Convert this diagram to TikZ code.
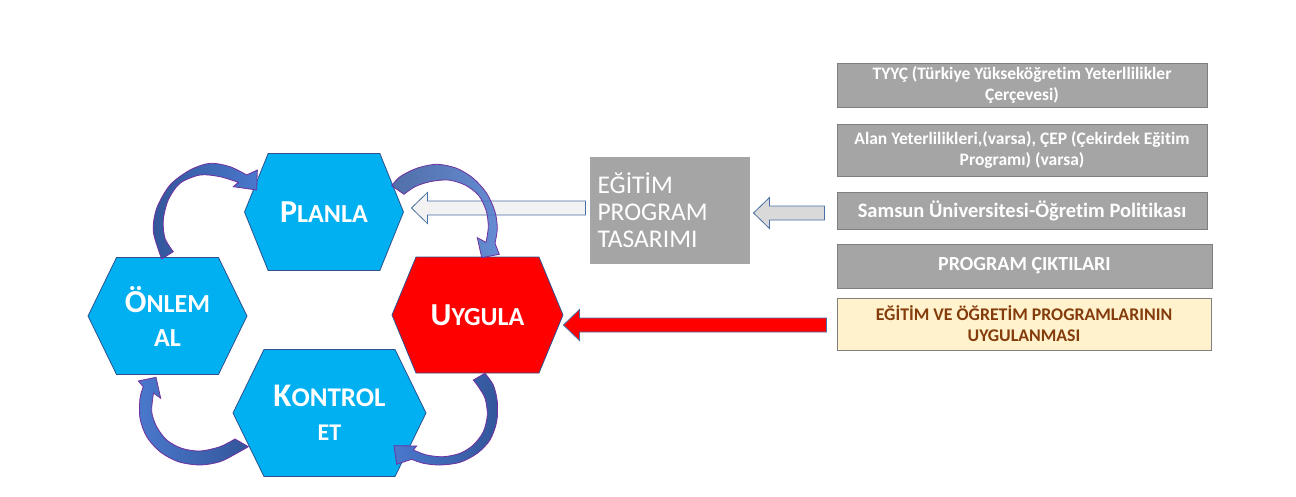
\documentclass[tikz,border=0pt]{standalone}
\usepackage{fontspec}
\setmainfont{Carlito}[Ligatures=NoCommon]
\usetikzlibrary{shapes.symbols,calc}
\definecolor{hexblue}{HTML}{00B0F0}
\definecolor{hexline}{HTML}{2F528F}
\definecolor{boxgray}{HTML}{A5A5A5}
\definecolor{boxline}{HTML}{7F7F7F}
\definecolor{cream}{HTML}{FFF2CC}
\definecolor{textbrown}{HTML}{843C0C}
\definecolor{arrowline}{HTML}{4A6FA5}
\definecolor{arrowpale}{HTML}{F2F2F2}
\definecolor{arrowgray}{HTML}{D9D9D9}
\definecolor{curvedark}{HTML}{33569A}
\definecolor{curvelight}{HTML}{4A78CC}
\definecolor{curveline}{HTML}{7030A0}
\newcommand\hexinit[1]{{\fontsize{32}{34}\selectfont #1}}
\tikzset{
 hexa/.style={signal,signal to=east and west,draw=hexline,line width=.8pt,fill=hexblue,text=white,inner sep=0,font=\bfseries\fontsize{26}{34}\selectfont,align=center},
 graybox/.style={rectangle,draw=boxline,line width=1pt,fill=boxgray,text=white,inner sep=0,font=\bfseries\fontsize{17.5}{20.5}\selectfont,align=center},
 blockarrow/.style={draw=arrowline,line width=.8pt,to path={let \p1=(\tikztostart),\p2=(\tikztotarget) in (\x1,\y2+7pt) -- (\x2+16pt,\y2+7pt) -- (\x2+16pt,\y2+15.5pt) -- (\x2,\y2) -- (\x2+16pt,\y2-15.5pt) -- (\x2+16pt,\y2-7pt) -- (\x1,\y2-7pt) -- cycle}},
 curvearrow/.style={draw=curveline,line width=.8pt}
}
\begin{document}
\begin{tikzpicture}[x=1pt,y=-1pt]
\path[use as bounding box,fill=white] (0,0) rectangle (1296,496);
% cycle
\node[hexa,minimum width=159,minimum height=117,signal pointer angle=136] (planla) at (324,212) {\hexinit{P}LANLA};
\node[hexa,minimum width=171,minimum height=116,signal pointer angle=135,fill=red] (uygula) at (477.5,315) {\hexinit{U}YGULA};
\node[hexa,minimum width=193,minimum height=127,signal pointer angle=128] (kontrol) at (329.5,413) {{\fontsize{33}{35}\selectfont K}{\fontsize{27}{35}\selectfont ONTROL}\\{\fontsize{24}{35}\selectfont ET}};
\node[hexa,minimum width=159,minimum height=117,signal pointer angle=128] (onlem) at (167.5,316) {\hexinit{Ö}NLEM\\AL};
% right column
\node[graybox,minimum width=370,minimum height=44] (tyyc) at (1022,85) {TYYÇ (Türkiye Yükseköğretim Yeterllilikler\\Çerçevesi)};
\node[graybox,minimum width=370,minimum height=52] (alan) at (1022,150) {Alan Yeterlilikleri,(varsa), ÇEP (Çekirdek Eğitim\\Programı) (varsa)};
\node[graybox,minimum width=370,minimum height=37,font=\bfseries\fontsize{20.5}{22}\selectfont] (samsun) at (1022,210.5) {Samsun Üniversitesi-Öğretim Politikası};
\node[graybox,minimum width=375,minimum height=44,font=\bfseries\fontsize{20}{22}\selectfont] (cikti) at (1024.5,266) {PROGRAM ÇIKTILARI};
\node[graybox,minimum width=374,minimum height=52,fill=cream,text=textbrown,font=\bfseries\fontsize{17.8}{21}\selectfont] (uygulanma) at (1024,324) {EĞİTİM VE ÖĞRETİM PROGRAMLARININ\\UYGULANMASI};
\node[graybox,draw=none,minimum width=160,minimum height=107,text width=145,align=left,font=\fontsize{25.5}{27}\selectfont] (tasarim) at (670,210.5) {EĞİTİM\\PROGRAM\\TASARIMI};
% block arrows
\draw[blockarrow,fill=arrowpale] ($(tasarim.west)+(-4,0)$) to ($(planla.east)+(7.5,-4)$);
\draw[blockarrow,fill=arrowgray] ($(samsun.west)+(-12,0)$) to ($(tasarim.east)+(3,2.5)$);
\draw[blockarrow,fill=red] ($(uygulanma.west)+(-10,0)$) to ($(uygula.east)+(0,10)$);
% curved arrows
\draw[curvearrow,left color=curvedark,right color=curvelight] plot[smooth] coordinates {(161.7,259) (153.3,231.7) (156.7,208.3) (170,185) (190,170) (210,163.3) (230,166.7) (246.7,175)} -- (257.3,170) -- (256.7,190) -- (233.3,186.7) -- plot[smooth] coordinates {(238.3,182.3) (220,176.7) (200,175) (180,183.3) (168.3,200) (163.3,220) (165,238.3) (173.3,251.7)} -- cycle;
\draw[curvearrow,left color=curvedark,right color=curvelight,fill opacity=.85] plot[smooth] coordinates {(391.7,185.7) (400,176.7) (416.7,168.3) (436.7,164.3) (456.7,168.3) (473.3,178.3) (486.7,193.3) (495,211.7) (497.3,228.3) (495,243.3)} -- (499.3,254.3) -- (481.7,257.7) -- (477.3,237.7) -- plot[smooth] coordinates {(486,242.3) (488.3,226.7) (486,210) (478.3,195) (465,185) (448.3,180) (430,181.7) (415,186.7) (404,194.3)} -- cycle;
\draw[curvearrow,left color=curvelight,right color=curvedark] plot[smooth] coordinates {(473.3,380) (478.3,386.7) (485,398.3) (487.3,415) (483.3,431.7) (473.3,445) (460,453.3) (443.3,456.7) (426.7,455) (413.3,450)} -- (416.7,446) -- (394,445.7) -- (396.7,464.3) -- plot[smooth] coordinates {(411.7,459.3) (423.3,463.3) (440,465) (460,462.3) (477.3,453.3) (490,440) (496.7,421.7) (497.3,401.7) (493.3,385) (485,373.3)} -- cycle;
\draw[curvearrow,left color=curvelight,right color=curvedark] plot[smooth] coordinates {(248.3,446.7) (236.7,453.3) (220,461.7) (200,465) (178.3,461.7) (160,451.7) (146.7,436.7) (140,418.3) (140,398.3) (143.3,386.7)} -- (138.3,381) -- (156,377.3) -- (160.7,398.3) -- plot[smooth] coordinates {(153.5,393) (151.7,411.7) (156.7,426.7) (166.7,440) (181.7,448.3) (200,451) (220,446.7) (235,439)} -- cycle;
\end{tikzpicture}
\end{document}
